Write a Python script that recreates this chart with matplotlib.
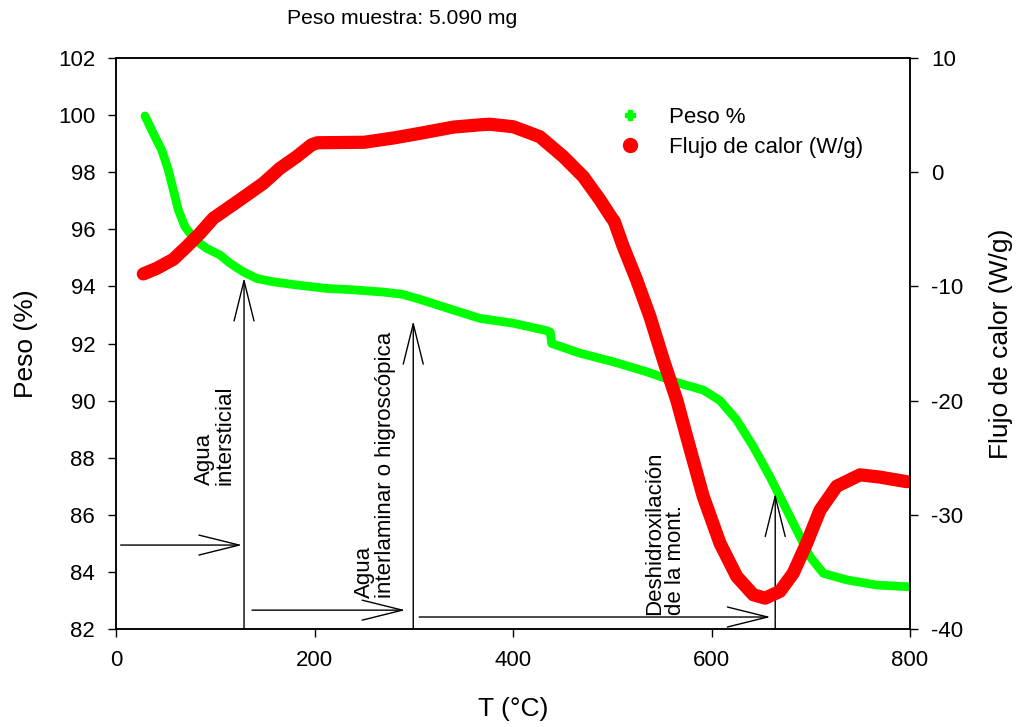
import matplotlib
matplotlib.use("Agg")
import matplotlib.pyplot as plt
from matplotlib.lines import Line2D

plt.rcParams['font.family'] = ['Liberation Sans', 'DejaVu Sans']
plt.rcParams['axes.unicode_minus'] = False

# Weight loss curve (TGA)
temp_peso = [29.2, 37.6, 46, 52.7, 57.7, 62.8, 69.5, 79.6, 91.4, 104.8, 114.9,
             128.3, 141.7, 158.5, 182, 212, 239, 270, 289, 306, 340, 366.8,
             400.3, 434, 437.5, 439, 467.5, 501, 534.7, 568.5, 591.7, 608.6,
             625.4, 642.1, 658.9, 672.4, 685.8, 699.3, 712.7, 736.2, 766.4, 798]
peso = [99.97, 99.36, 98.78, 98.08, 97.38, 96.68, 96.09, 95.63, 95.33, 95.10,
        94.81, 94.51, 94.28, 94.16, 94.05, 93.93, 93.88, 93.80, 93.72, 93.55,
        93.17, 92.88, 92.71, 92.45, 92.4, 92.0, 91.66, 91.36, 91.01, 90.6,
        90.37, 90.0, 89.32, 88.39, 87.33, 86.4, 85.47, 84.53, 83.95, 83.72,
        83.54, 83.48]

# Heat flow curve (DSC)
temp_flujo = [27.5, 41, 57.7, 71.2, 84.6, 98, 114.9, 131.7, 148.4, 165.2, 182,
              197.2, 203, 250, 280, 306, 340, 366.8, 376.8, 400.3, 427, 450.7,
              470.8, 487.7, 499.4, 502, 511.1, 524.6, 538, 551.5, 565, 575,
              591.7, 608.6, 625.4, 642.1, 654, 669, 682.4, 695.9, 709.3, 726.1,
              749.6, 769.8, 796.6]
flujo = [-8.91, -8.42, -7.63, -6.52, -5.35, -4.04, -3.02, -2.0, -0.97, 0.34,
         1.36, 2.41, 2.58, 2.62, 3.0, 3.4, 3.95, 4.15, 4.2, 3.98, 3.11, 1.36,
         -0.39, -2.43, -4.0, -4.3, -6.52, -9.44, -12.65, -16.44, -19.95,
         -23.16, -28.4, -32.5, -35.4, -37.0, -37.3, -36.7, -35.1, -32.5, -29.6,
         -27.5, -26.5, -26.7, -27.1]

# Thermal events marked on the curves
etapas = ["Agua\nintersticial",
          "Agua\ninterlaminar o higroscópica",
          "Deshidroxilación\nde la mont."]
etapa_x = [99.7, 261, 553]
etapa_y = [87.04, 83.09, 82.49]

fig = plt.figure(figsize=(10.2, 7.27), dpi=100)
ax = fig.add_axes([116/1020, 1-629/727, (910-116)/1020, (629-58)/727])
ax2 = ax.twinx()

ax.plot(temp_peso, peso, color='#00ff00', lw=6.3, solid_capstyle='round',
        solid_joinstyle='round', zorder=2)
ax2.plot(temp_flujo, flujo, color='#ff0000', lw=9.5, solid_capstyle='round',
         solid_joinstyle='round', zorder=2)

ax.set_xlim(0, 800)
ax.set_ylim(82, 102)
ax2.set_ylim(-40, 10)
ax.set_xticks([0, 200, 400, 600, 800])
ax.set_yticks(range(82, 103, 2))
ax2.set_yticks(range(-40, 11, 10))

for a in (ax, ax2):
    a.tick_params(direction='out', length=6, width=1, labelsize=16, pad=9)
    for s in a.spines.values():
        s.set_linewidth(1.1)
ax.tick_params(axis='x', pad=9)

ax.set_xlabel('T (°C)', fontsize=19, labelpad=19)
ax.set_ylabel('Peso (%)', fontsize=19, labelpad=14)
ax2.set_ylabel('Flujo de calor (W/g)', fontsize=19, labelpad=19)

fig.text(402.5/1020, 1-18/727, 'Peso muestra: 5.090 mg', ha='center',
         va='center', fontsize=15.2)

arrow = dict(arrowstyle='->,head_length=2.9,head_width=0.72', lw=1,
             color='black', shrinkA=0, shrinkB=0, mutation_scale=10)

# horizontal arrows
for x0, x1, y in [(4.7, 127, 84.94), (137, 291.5, 82.66), (305.5, 659.5, 82.42)]:
    ax.annotate('', xy=(x1, y), xytext=(x0, y), arrowprops=arrow)
# vertical arrows
for x, ytop in [(129, 94.3), (299.5, 92.79), (664.2, 86.75)]:
    ax.annotate('', xy=(x, ytop), xytext=(x, 82), arrowprops=arrow)

for txt, x, y in zip(etapas, etapa_x, etapa_y):
    ax.text(x, y, txt, rotation=90, ha='center', va='bottom',
            multialignment='left', fontsize=16, linespacing=1.0)

handles = [Line2D([], [], ls='none', marker='P', color='#00ff00', markersize=7),
           Line2D([], [], ls='none', marker='o', color='#ff0000', markersize=10)]
fig.legend(handles, ['Peso %', 'Flujo de calor (W/g)'], frameon=False,
           loc='upper left', bbox_to_anchor=(619/1020, 1-107/727),
           fontsize=16, handlelength=1.0, handletextpad=1.26,
           labelspacing=0.4, borderpad=0, borderaxespad=0)

fig.savefig('out.png', dpi=100)
